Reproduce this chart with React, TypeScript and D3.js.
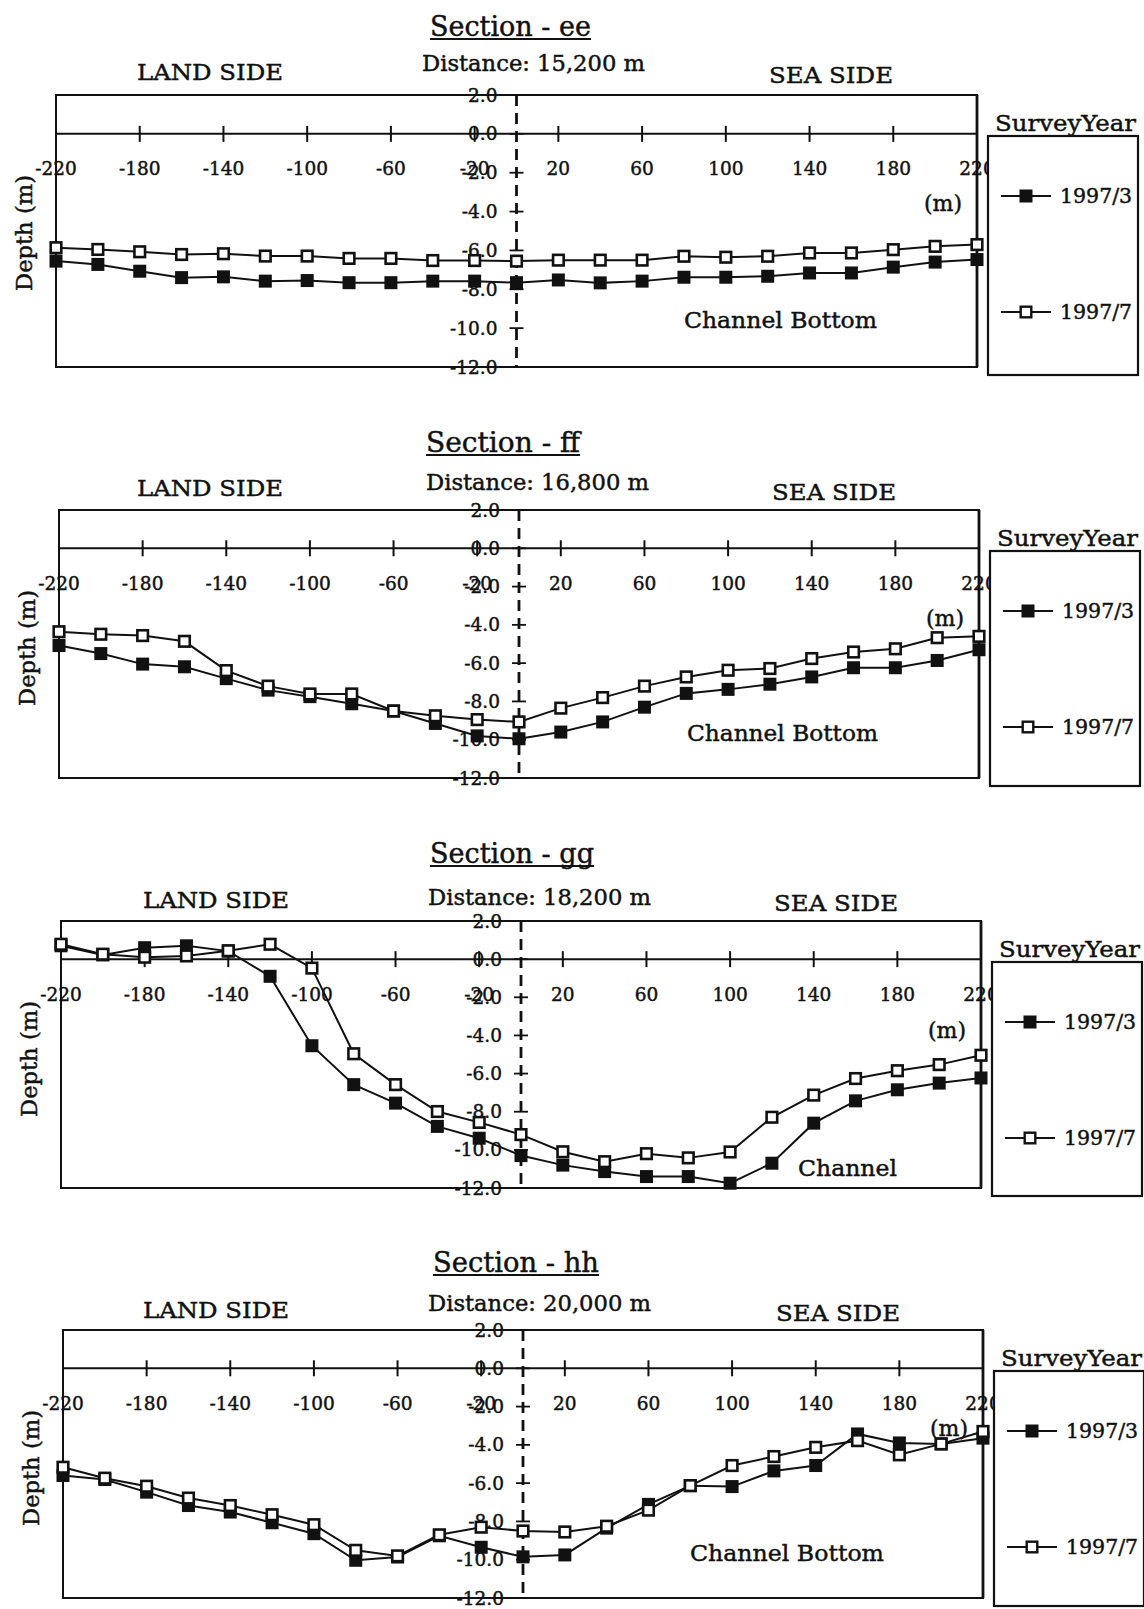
import React from 'react';
import * as d3 from 'd3';

// ---------- data ----------
const DISTANCES = [-220, -200, -180, -160, -140, -120, -100, -80, -60, -40, -20, 0, 20, 40, 60, 80, 100, 120, 140, 160, 180, 200, 220];
const X_TICKS = [-220, -180, -140, -100, -60, -20, 20, 60, 100, 140, 180, 220];
const X_TICK_LABELS = ['-220', '-180', '-140', '-100', '-60', '-20', '20', '60', '100', '140', '180', '220'];
const Y_TICKS = [2, 0, -2, -4, -6, -8, -10, -12];
const Y_TICK_LABELS = ['2.0', '0.0', '-2.0', '-4.0', '-6.0', '-8.0', '-10.0', '-12.0'];
const SERIES_NAMES = ['1997/3', '1997/7'];

const SECTION_TITLES = ['Section - ee', 'Section - ff', 'Section - gg', 'Section - hh'];
const SECTION_DISTANCES = ['Distance: 15,200 m', 'Distance: 16,800 m', 'Distance: 18,200 m', 'Distance: 20,000 m'];
const SECTION_NOTES = ['Channel Bottom', 'Channel Bottom', 'Channel', 'Channel Bottom'];

const EE_1997_3 = [-6.55, -6.72, -7.07, -7.4, -7.36, -7.58, -7.55, -7.66, -7.66, -7.58, -7.58, -7.66, -7.52, -7.67, -7.58, -7.38, -7.38, -7.33, -7.16, -7.16, -6.86, -6.6, -6.47];
const EE_1997_7 = [-5.86, -5.95, -6.07, -6.21, -6.17, -6.29, -6.29, -6.41, -6.41, -6.52, -6.52, -6.55, -6.5, -6.5, -6.5, -6.3, -6.35, -6.3, -6.13, -6.13, -5.96, -5.79, -5.7];

const FF_1997_3 = [-5.08, -5.5, -6.05, -6.19, -6.81, -7.41, -7.75, -8.12, -8.5, -9.15, -9.8, -9.95, -9.6, -9.07, -8.3, -7.58, -7.37, -7.1, -6.72, -6.24, -6.24, -5.86, -5.3];
const FF_1997_7 = [-4.36, -4.49, -4.56, -4.86, -6.39, -7.2, -7.61, -7.61, -8.5, -8.75, -8.95, -9.07, -8.35, -7.8, -7.2, -6.72, -6.37, -6.28, -5.76, -5.42, -5.25, -4.67, -4.6];

const GG_1997_3 = [0.7, 0.22, 0.6, 0.7, 0.42, -0.9, -4.54, -6.58, -7.55, -8.77, -9.39, -10.3, -10.8, -11.14, -11.4, -11.4, -11.75, -10.7, -8.6, -7.43, -6.85, -6.5, -6.23];
const GG_1997_7 = [0.78, 0.26, 0.1, 0.17, 0.44, 0.78, -0.47, -4.96, -6.58, -7.99, -8.56, -9.2, -10.1, -10.62, -10.2, -10.42, -10.11, -8.29, -7.13, -6.26, -5.85, -5.53, -5.04];

const HH_1997_3 = [-5.6, -5.81, -6.47, -7.17, -7.51, -8.07, -8.64, -10.03, -9.86, -8.75, -9.35, -9.85, -9.75, -8.35, -7.11, -6.13, -6.18, -5.36, -5.08, -3.43, -3.9, -3.95, -3.65];
const HH_1997_7 = [-5.17, -5.74, -6.16, -6.78, -7.17, -7.65, -8.17, -9.51, -9.8, -8.7, -8.3, -8.5, -8.55, -8.25, -7.41, -6.13, -5.08, -4.61, -4.13, -3.78, -4.52, -3.95, -3.3];

const SERIES_BY_SECTION = [
  [EE_1997_3, EE_1997_7],
  [FF_1997_3, FF_1997_7],
  [GG_1997_3, GG_1997_7],
  [HH_1997_3, HH_1997_7],
];

// ---------- layout ----------
const LAYOUT = [
  { left: 56, right: 977, top: 95, bottom: 367, titleX: 430, titleW: 161, titleY: 26, distX: 422, distY: 63, landX: 137, landY: 72, seaX: 769, seaY: 75, mY: 203, noteX: 684, noteW: 193, noteY: 320 },
  { left: 59, right: 979, top: 510, bottom: 778, titleX: 426, titleW: 154, titleY: 442, distX: 426, distY: 482, landX: 137, landY: 488, seaX: 772, seaY: 492, mY: 618, noteX: 687, noteW: 191, noteY: 733 },
  { left: 61, right: 981, top: 921, bottom: 1188, titleX: 430, titleW: 164, titleY: 853, distX: 428, distY: 897, landX: 143, landY: 900, seaX: 774, seaY: 903, mY: 1030, noteX: 798, noteW: 99, noteY: 1168 },
  { left: 63, right: 983, top: 1330, bottom: 1598, titleX: 433, titleW: 166, titleY: 1262, distX: 428, distY: 1303, landX: 143, landY: 1310, seaX: 776, seaY: 1313, mY: 1428, noteX: 690, noteW: 194, noteY: 1553 },
];

const FONT = '"DejaVu Serif", "Liberation Serif", serif';
const INK = '#111';
const TXT = { stroke: INK, strokeWidth: 0.45 };

function Panel({ idx }: { idx: number }) {
  const L = LAYOUT[idx];
  const [s3, s7] = SERIES_BY_SECTION[idx];
  const x = d3.scaleLinear().domain([-220, 220]).range([L.left, L.right]);
  const y = d3.scaleLinear().domain([2, -12]).range([L.top, L.bottom]);
  const x0 = x(0);
  const y0 = y(0);
  const line = d3
    .line<number>()
    .x((_, i) => x(DISTANCES[i]))
    .y((d) => y(d));
  const M = 13;
  const legX = L.right + 11;
  const legTop = L.top + 41;
  const legBottom = Math.min(L.bottom + 8, 1606);
  const entryY = [L.top + 101, L.top + 217];

  return (
    <g fontFamily={FONT} fill={INK}>
      {/* titles */}
      <text x={L.titleX} y={L.titleY} fontSize={27} dominantBaseline="central" textLength={L.titleW} lengthAdjust="spacingAndGlyphs" {...TXT}>
        {SECTION_TITLES[idx]}
      </text>
      <line x1={L.titleX} x2={L.titleX + L.titleW} y1={L.titleY + 13} y2={L.titleY + 13} stroke={INK} strokeWidth={1.8} />
      <text x={L.distX} y={L.distY} fontSize={22} dominantBaseline="central" textLength={223} lengthAdjust="spacingAndGlyphs" {...TXT}>
        {SECTION_DISTANCES[idx]}
      </text>
      <text x={L.landX} y={L.landY} fontSize={23} dominantBaseline="central" textLength={146} lengthAdjust="spacingAndGlyphs" {...TXT}>
        LAND SIDE
      </text>
      <text x={L.seaX} y={L.seaY} fontSize={23} dominantBaseline="central" textLength={124} lengthAdjust="spacingAndGlyphs" {...TXT}>
        SEA SIDE
      </text>

      {/* frame */}
      <rect x={L.left} y={L.top} width={L.right - L.left} height={L.bottom - L.top} fill="none" stroke={INK} strokeWidth={2} />
      <line x1={L.right} x2={L.right} y1={L.top} y2={L.bottom} stroke={INK} strokeWidth={2.8} />

      {/* zero line with ticks */}
      <line x1={L.left} x2={L.right} y1={y0} y2={y0} stroke={INK} strokeWidth={2} />
      {X_TICKS.map((t) => (
        <line key={'xt' + t} x1={x(t)} x2={x(t)} y1={y0 - 8} y2={y0 + 8} stroke={INK} strokeWidth={2} />
      ))}
      {X_TICKS.map((t, i) => (
        <text key={'xl' + t} x={x(t)} y={y0 + 35} fontSize={18.5} textAnchor="middle" dominantBaseline="central" {...TXT}>
          {X_TICK_LABELS[i]}
        </text>
      ))}

      {/* y axis at x = 0 */}
      {Y_TICKS.map((t, i) => (
        <text key={'yl' + t} x={x0 - 19} y={y(t)} fontSize={18.5} textAnchor="end" dominantBaseline="central" {...TXT}>
          {Y_TICK_LABELS[i]}
        </text>
      ))}
      <line x1={x0} x2={x0} y1={L.top} y2={L.bottom} stroke={INK} strokeWidth={2.8} strokeDasharray="11 7" />
      {Y_TICKS.map((t) => (
        <line key={'yt' + t} x1={x0 - 7} x2={x0 + 7} y1={y(t)} y2={y(t)} stroke={INK} strokeWidth={1.8} />
      ))}

      {/* annotations */}
      <text x={L.right - 34} y={L.mY} fontSize={22} textAnchor="middle" dominantBaseline="central" {...TXT}>
        (m)
      </text>
      <text x={L.noteX} y={L.noteY} fontSize={23} dominantBaseline="central" textLength={L.noteW} lengthAdjust="spacingAndGlyphs" {...TXT}>
        {SECTION_NOTES[idx]}
      </text>
      <text
        transform={`translate(${L.left - 32},${L.top + 138}) rotate(-90)`}
        fontSize={22}
        textAnchor="middle"
        dominantBaseline="central"
        textLength={116}
        lengthAdjust="spacingAndGlyphs"
        {...TXT}
      >
        Depth (m)
      </text>

      {/* series 1997/3 */}
      <path d={line(s3) || ''} fill="none" stroke={INK} strokeWidth={2} />
      {s3.map((v, i) => (
        <rect key={'a' + i} x={x(DISTANCES[i]) - M / 2} y={y(v) - M / 2} width={M} height={M} fill={INK} />
      ))}
      {/* series 1997/7 */}
      <path d={line(s7) || ''} fill="none" stroke={INK} strokeWidth={2} />
      {s7.map((v, i) => (
        <rect key={'b' + i} x={x(DISTANCES[i]) - M / 2 + 1.2} y={y(v) - M / 2 + 1.2} width={M - 2.4} height={M - 2.4} fill="#fff" stroke={INK} strokeWidth={2.6} />
      ))}

      {/* legend */}
      <text x={legX + 7} y={L.top + 28} fontSize={23} dominantBaseline="central" textLength={141} lengthAdjust="spacingAndGlyphs" {...TXT}>
        SurveyYear
      </text>
      <rect x={legX} y={legTop} width={150} height={legBottom - legTop} fill="#fff" stroke={INK} strokeWidth={2.2} />
      {SERIES_NAMES.map((name, i) => (
        <g key={name}>
          <line x1={legX + 13} x2={legX + 63} y1={entryY[i]} y2={entryY[i]} stroke={INK} strokeWidth={2} />
          {i === 0 ? (
            <rect x={legX + 38 - M / 2} y={entryY[i] - M / 2} width={M} height={M} fill={INK} />
          ) : (
            <rect x={legX + 38 - M / 2 + 1.2} y={entryY[i] - M / 2 + 1.2} width={M - 2.4} height={M - 2.4} fill="#fff" stroke={INK} strokeWidth={2.4} />
          )}
          <text x={legX + 72} y={entryY[i]} fontSize={20.5} dominantBaseline="central" {...TXT}>
            {name}
          </text>
        </g>
      ))}
    </g>
  );
}

export default function App() {
  return (
    <svg
      width={1144}
      height={1609}
      viewBox="0 0 1144 1609"
      style={{ position: 'absolute', left: 0, top: 0, background: '#fff', display: 'block' }}
    >
      <rect x={0} y={0} width={1144} height={1609} fill="#fff" />
      {LAYOUT.map((_, i) => (
        <Panel key={i} idx={i} />
      ))}
    </svg>
  );
}
